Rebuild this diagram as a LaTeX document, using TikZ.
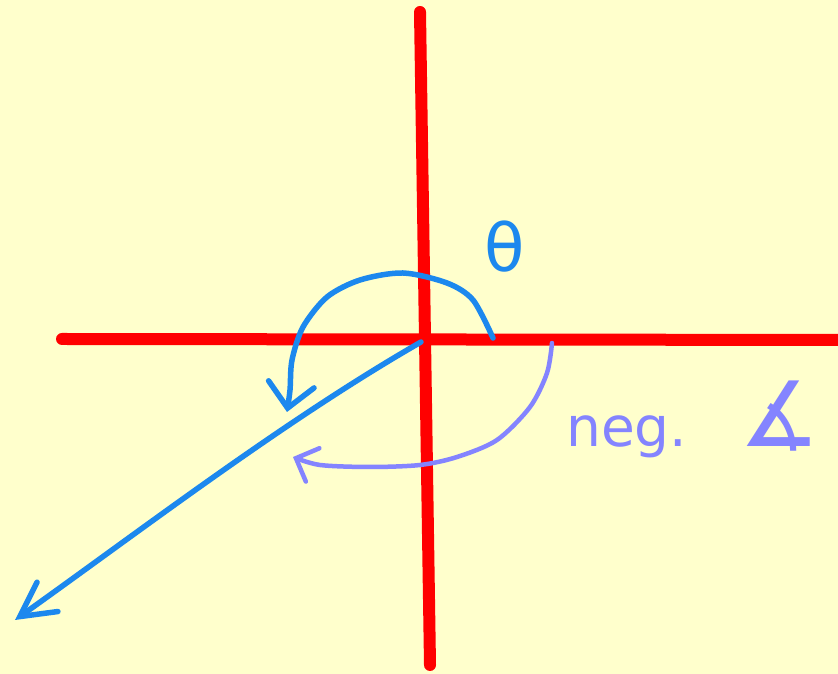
\documentclass[tikz,border=0pt]{standalone}
\usepackage{fontspec}
\newfontfamily\handfont{DejaVu Sans}
\usetikzlibrary{arrows.meta}
\definecolor{paper}{RGB}{255,255,204}
\definecolor{penred}{RGB}{255,0,0}
\definecolor{penblue}{RGB}{28,136,238}
\definecolor{penviolet}{RGB}{132,132,255}
\tikzset{
  axisline/.style={penred, line width=12pt, line cap=round},
  bluepen/.style={penblue, line width=5.5pt, line cap=round, line join=round},
  violetpen/.style={penviolet, line width=4.5pt, line cap=round, line join=round}
}

\begin{document}
\begin{tikzpicture}[x=1pt, y=1pt]
\path [fill=paper] (0,0) rectangle (838,674);
\useasboundingbox (0,0) rectangle (838,674);
\begin{scope}
\clip (0,0) rectangle (838,674);
\draw [axisline] (420,662)--(430,9);
\draw [axisline] (62,335)--(860,334);
\end{scope}
\coordinate (O) at (421,332);
\coordinate (tipray) at (15,54);
\draw [bluepen, -{Straight Barb[length=34pt, width=36pt, line cap=round]}]
  (O) .. controls (285,254) and (140,143) .. (tipray);
\draw [bluepen, -{Straight Barb[length=24pt, width=46pt, line cap=round]}]
  plot [smooth] coordinates {(493,336) (473,374) (447,391) (403,401) (360,394)
  (327,377) (303,347) (292,314) (290,284) (287,262)};
\node (theta) at (505,427) {\handfont\fontsize{66}{66}\selectfont\color{penblue}θ};
\draw [violetpen, -{Straight Barb[length=18pt, width=36pt, line cap=round]}]
  plot [smooth] coordinates {(552,331) (547,301) (530,267) (497,234) (457,217)
  (420,209) (370,207) (320,209) (293,217)};
\node (negangle) [anchor=base west, inner sep=0pt] at (566,227)
  {\handfont\fontsize{55}{55}\selectfont\color{penviolet}neg.\hspace{52pt}{\fontsize{90}{90}\selectfont ∡}};
\end{tikzpicture}
\end{document}
